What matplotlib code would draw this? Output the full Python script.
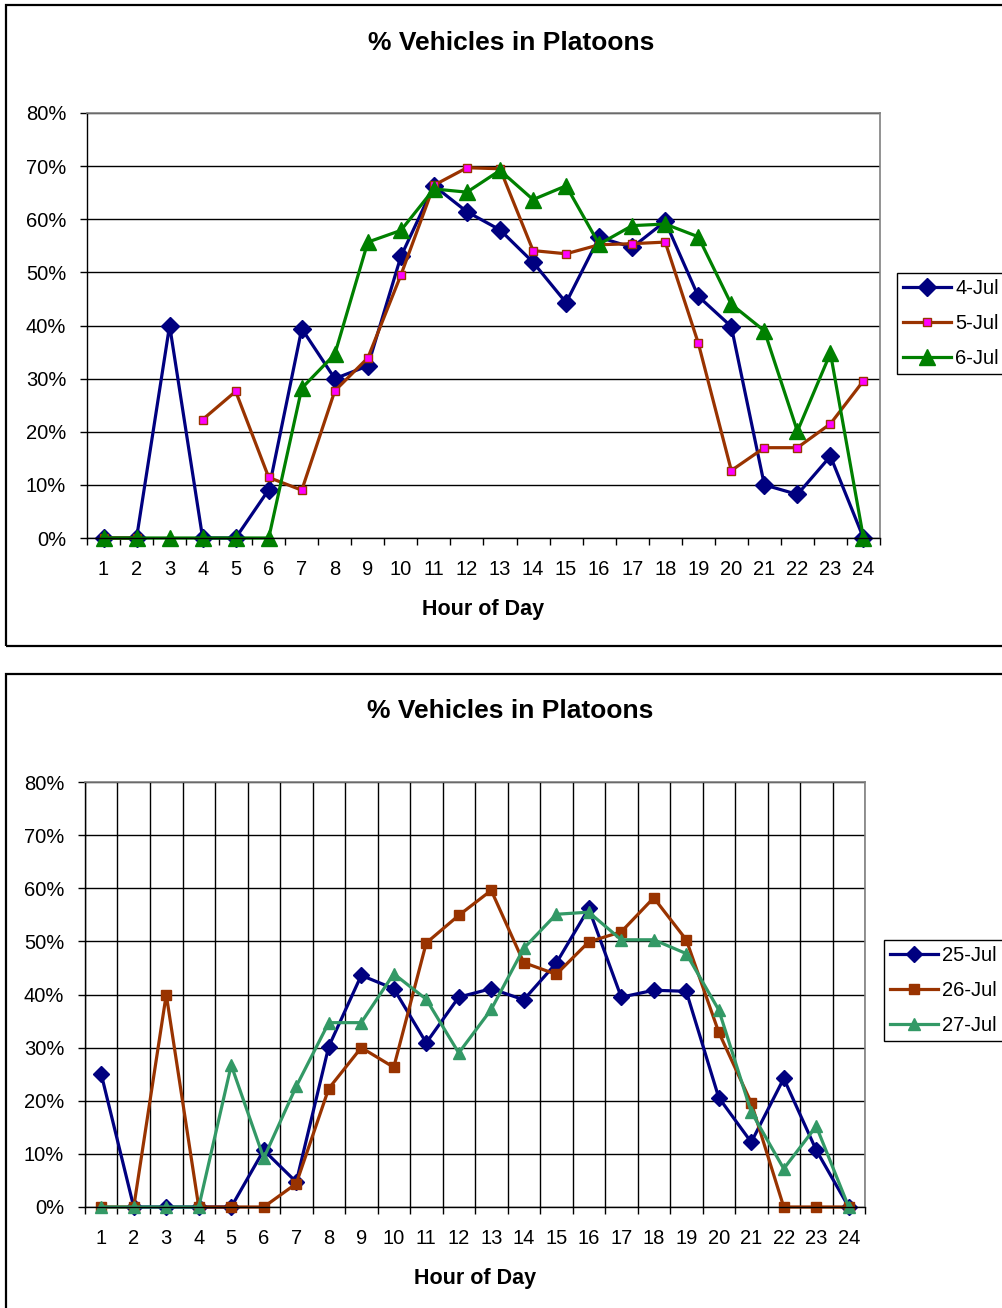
import numpy as np
import matplotlib
matplotlib.use("Agg")
import matplotlib.pyplot as plt
from matplotlib.patches import Rectangle

plt.rcParams['font.family'] = ['Liberation Sans', 'DejaVu Sans']

hours = list(range(1, 25))

# first week of July
jul4 = [0, 0, 40.0, 0, 0, 9.1, 39.4, 30.0, 32.4, 53.0, 66.3, 61.4, 58.0, 51.9, 44.3, 56.6,
        54.7, 59.6, 45.5, 39.8, 10.0, 8.2, 15.4, 0]
jul5 = [0, 0, np.nan, 22.3, 27.6, 11.4, 9.0, 27.7, 33.9, 49.5, 66.4, 69.7, 69.5, 54.1, 53.5,
        55.2, 55.4, 55.7, 36.7, 12.7, 17.0, 17.0, 21.5, 29.6]
jul6 = [0, 0, 0, 0, 0, 0, 28.2, 34.6, 55.7, 57.9, 65.7, 65.1, 69.2, 63.7, 66.3, 55.3,
        58.8, 59.1, 56.7, 44.0, 39.0, 20.1, 34.8, 0]

# last week of July
jul25 = [25.0, 0, 0, 0, 0, 10.7, 4.7, 30.2, 43.6, 41.1, 30.9, 39.5, 41.1, 39.0, 45.9, 56.2,
         39.5, 40.8, 40.6, 20.6, 12.2, 24.2, 10.7, 0]
jul26 = [0, 0, 40.0, 0, 0, 0, 4.4, 22.3, 30.0, 26.3, 49.7, 54.9, 59.6, 46.0, 43.8, 49.9,
         51.8, 58.2, 50.3, 32.9, 19.6, 0, 0, 0]
jul27 = [0, 0, 0, 0, 26.7, 9.2, 22.7, 34.7, 34.7, 43.9, 39.1, 29.0, 37.2, 48.7, 55.1, 55.5,
         50.3, 50.3, 47.7, 37.1, 17.9, 7.2, 15.2, 0]

W, H = 1003, 1308
fig = plt.figure(figsize=(W / 100, H / 100), dpi=100)

TICK_FS = 14.5


def px_axes(x0, y0, x1, y1):
    return fig.add_axes([x0 / W, 1 - y1 / H, (x1 - x0) / W, (y1 - y0) / H])


def style_axes(ax, vgrid):
    ax.set_xlim(0.5, 24.5)
    ax.set_ylim(0, 80)
    ax.set_xticks(hours)
    ax.set_xticklabels([str(h) for h in hours])
    ax.set_xticks(np.arange(0.5, 25, 1), minor=True)
    ax.set_yticks(range(0, 81, 10))
    ax.set_yticklabels(['%d%%' % v for v in range(0, 81, 10)])
    ax.tick_params(axis='x', which='major', length=0, pad=16, labelsize=TICK_FS)
    ax.tick_params(axis='x', which='minor', length=5, width=1, direction='out')
    ax.tick_params(axis='y', length=5, width=1, pad=10, labelsize=TICK_FS)
    ax.yaxis.grid(True, color='black', linewidth=1)
    if vgrid:
        ax.xaxis.grid(True, which='minor', color='black', linewidth=1)
    ax.set_axisbelow(True)
    for s in ('top', 'right'):
        ax.spines[s].set_color('#808080')
        ax.spines[s].set_linewidth(1.2)
    for s in ('left', 'bottom'):
        ax.spines[s].set_color('black')
        ax.spines[s].set_linewidth(1)
    ax.set_xlabel('Hour of Day', fontsize=15.5, fontweight='bold', labelpad=14)


def add_legend(ax, x0, y0):
    ax.legend(loc='upper left', bbox_to_anchor=(x0 / W, 1 - y0 / H), bbox_transform=fig.transFigure,
              borderaxespad=0, fancybox=False, edgecolor='black', framealpha=1, fontsize=TICK_FS,
              handlelength=2.4, handletextpad=0.2, labelspacing=0.8, borderpad=0.3)


# outer chart frames
fig.patches.append(Rectangle((6 / W, 1 - 646 / H), 1.02, 641 / H, transform=fig.transFigure,
                             fill=False, edgecolor='black', linewidth=1.6))
fig.patches.append(Rectangle((6 / W, -0.05), 1.02, 1 - 674 / H + 0.05, transform=fig.transFigure,
                             fill=False, edgecolor='black', linewidth=1.6))

# top chart
ax1 = px_axes(87, 113, 880, 538)
style_axes(ax1, vgrid=False)
ax1.plot(hours, jul4, color='#000080', lw=2.3, marker='D', ms=9, mec='#000080', label='4-Jul',
         clip_on=False)
ax1.plot(hours, jul5, color='#993300', lw=2.3, marker='s', ms=5.5, mfc='#FF00FF', mec='#993300',
         mew=1, label='5-Jul', clip_on=False)
ax1.plot(hours, jul6, color='#008000', lw=2.3, marker='^', ms=11, mec='#008000', label='6-Jul',
         clip_on=False)
fig.text(511 / W, 1 - 43 / H, '% Vehicles in Platoons', ha='center', va='center',
         fontsize=19, fontweight='bold')
add_legend(ax1, 897, 273)

# bottom chart
ax2 = px_axes(85, 782, 865, 1207)
style_axes(ax2, vgrid=True)
ax2.plot(hours, jul25, color='#000080', lw=2.3, marker='D', ms=8.5, mec='#000080', label='25-Jul',
         clip_on=False)
ax2.plot(hours, jul26, color='#993300', lw=2.3, marker='s', ms=6.5, mec='#993300', label='26-Jul',
         clip_on=False)
ax2.plot(hours, jul27, color='#339966', lw=2.3, marker='^', ms=8, mec='#339966', label='27-Jul',
         clip_on=False)
fig.text(510 / W, 1 - 711 / H, '% Vehicles in Platoons', ha='center', va='center',
         fontsize=19, fontweight='bold')
add_legend(ax2, 884, 940)

fig.savefig('out.png', dpi=100)
